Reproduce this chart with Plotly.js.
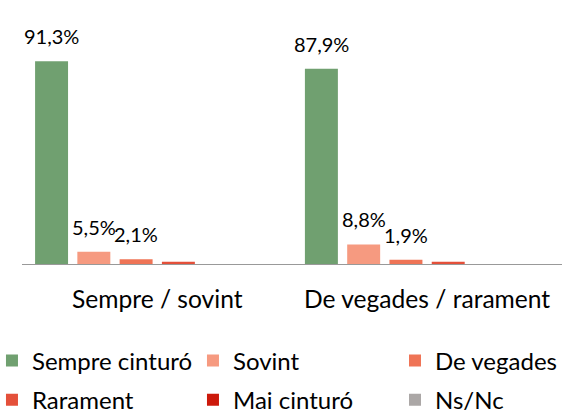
<!DOCTYPE html>
<html>
<head>
<meta charset="utf-8">
<script src="https://cdn.plot.ly/plotly-3.0.1.min.js"></script>
<style>html,body{margin:0;padding:0;background:#fff}#chart{width:562px;height:414px}</style>
</head>
<body>
<div id="chart"></div>
<script>
// ---- data ----
var categories = ['Sempre / sovint', 'De vegades / rarament'];
var seriesNames = ['Sempre cinturó', 'Sovint', 'De vegades', 'Rarament', 'Mai cinturó', 'Ns/Nc'];
var sempreCinturo = [91.3, 87.9];
var sovint = [5.5, 8.8];
var deVegades = [2.1, 1.9];
var rarament = [1.0, 1.0];
var maiCinturo = [0.0, 0.0];
var nsNc = [0.0, 0.0];
var seriesColors = ['#70a070', '#f69a80', '#ef7456', '#e4503a', '#cc190b', '#aba7a6'];
var labelThreshold = 1.5; // values below this carry no data label in the original

var seriesValues = [sempreCinturo, sovint, deVegades, rarament, maiCinturo, nsNc];
var FONT = 'Lato, "Open Sans", sans-serif';
var W = 562, H = 414;
var margin = {l: 22, r: 0, t: 42, b: 150};
var bargap = 0.06, bargroupgap = 0.22;

function fmt(v) { return v.toFixed(1).replace('.', ',') + '%'; }

// legend grid: 3 columns x 2 rows, one Plotly legend per block
var legendOf = ['legend', 'legend', 'legend3', 'legend2', 'legend2', 'legend4'];

var traces = seriesValues.map(function (vals, i) {
  return {
    type: 'bar',
    name: seriesNames[i],
    x: categories,
    y: vals,
    marker: {color: seriesColors[i], line: {width: 0}},
    legend: legendOf[i],
    legendwidth: 156,
    hoverinfo: 'skip'
  };
});

// data labels, placed above each bar through the axes' own scales
var plotW = W - margin.l - margin.r;
var slot = plotW / categories.length * (1 - bargap) / seriesValues.length;
var annotations = [];
seriesValues.forEach(function (vals, i) {
  vals.forEach(function (v, j) {
    if (v < labelThreshold) return;
    annotations.push({
      xref: 'x', yref: 'y', x: categories[j], y: v,
      xshift: (i - (seriesValues.length - 1) / 2) * slot,
      yshift: 25, yanchor: 'middle', xanchor: 'center',
      text: fmt(v), showarrow: false,
      font: {family: FONT, size: 20, color: '#000'}
    });
  });
});

function legendBlock(x, y, auto) {
  var o = {
    orientation: 'h', x: x, xanchor: 'left', y: y, yanchor: 'middle',
    font: {family: FONT, size: 24, color: '#000'}, entrywidthmode: 'pixels',
    bgcolor: 'rgba(0,0,0,0)', traceorder: 'normal'
  };
  if (auto) o.entrywidth = 0;
  return o;
}
var col1x = -0.0556, col3x = (395 - margin.l) / plotW;
var row1y = -0.437, row2y = -0.613;

var layout = {
  width: W, height: H,
  margin: Object.assign({autoexpand: false}, margin),
  paper_bgcolor: '#fff', plot_bgcolor: '#fff',
  barmode: 'group', bargap: bargap, bargroupgap: bargroupgap,
  font: {family: FONT, color: '#000'},
  xaxis: {
    type: 'category', showline: true, linecolor: '#999999', linewidth: 1.3,
    ticks: '', showgrid: false, zeroline: false,
    tickfont: {family: FONT, size: 24.6, color: '#000'},
    ticklabelstandoff: 13
  },
  yaxis: {range: [0, 100], visible: false, showgrid: false, zeroline: false},
  showlegend: true,
  legend: legendBlock(col1x, row1y),
  legend2: legendBlock(col1x, row2y),
  legend3: legendBlock(col3x, row1y),
  legend4: legendBlock(col3x, row2y),
  annotations: annotations
};

Plotly.newPlot('chart', traces, layout, {displayModeBar: false, staticPlot: true});
</script>
</body>
</html>
